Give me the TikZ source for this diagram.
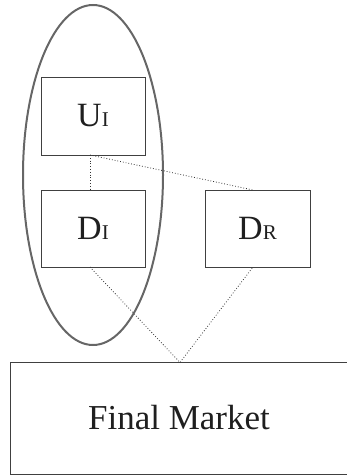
\documentclass[tikz,border=0pt]{standalone}
\usepackage{fontspec}
\setmainfont{Liberation Serif}
\begin{document}
\begin{tikzpicture}[x=1pt,y=-1pt,
  box/.style={draw=black!75,line width=0.9pt,inner sep=0pt,text=black!88,
    font=\fontsize{34}{36}\selectfont},
  lbl/.style={inner sep=0pt,text=black!88,font=\fontsize{35}{38}\selectfont},
  link/.style={draw=black!80,line width=0.8pt,dotted},
  grp/.style={draw=black!60,line width=2pt}]
\useasboundingbox (0,0) rectangle (347,476);
\clip (0,0) rectangle (347,476);
\node[box,minimum width=104pt,minimum height=78pt] (ui) at (93,116) {U{\fontsize{21}{24}\selectfont I}};
\node[box,minimum width=104pt,minimum height=77pt] (di) at (93,228.5) {D{\fontsize{21}{24}\selectfont I}};
\node[box,minimum width=105pt,minimum height=77pt] (dr) at (257.5,228.5) {D{\fontsize{21}{24}\selectfont R}};
\node[box,minimum width=360pt,minimum height=112pt] (fm) at (190,418.5) {};
\node[lbl] (fmtext) at (179,418) {Final Market};
\coordinate (uib) at (90,155);
\coordinate (dit) at (90,190);
\coordinate (drt) at (253,190);
\coordinate (dib) at (90,267);
\coordinate (drb) at (253,267);
\coordinate (fmt) at (180,362.5);
\draw[link] (uib) -- (dit);
\draw[link] (uib) -- (drt);
\draw[link] (dib) -- (fmt) -- (drb);
\draw[grp] (93,175) ellipse [x radius=70, y radius=170];
\end{tikzpicture}
\end{document}
